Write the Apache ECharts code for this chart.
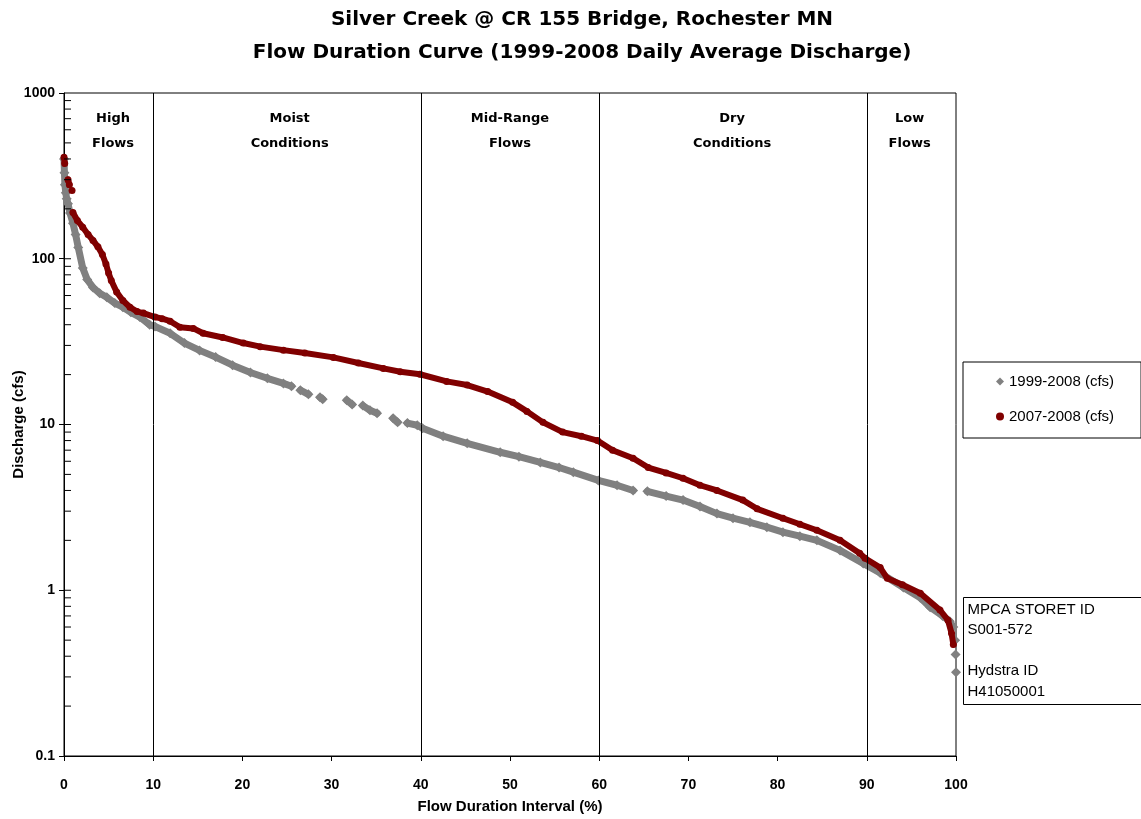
<!DOCTYPE html>
<html>
<head>
<meta charset="utf-8">
<script src="https://cdn.jsdelivr.net/npm/echarts@6/dist/echarts.min.js"></script>
<style>
  html, body { margin: 0; padding: 0; background: #fff; }
  #chart { width: 1141px; height: 819px; }
</style>
</head>
<body>
<div id="chart"></div>
<script>
// 1999-2008 daily discharge (null = gap in the curve)
var allYearsPct = [0, 0.05, 0.1, 0.2, 0.3, 0.45, 0.67, 1.0, 1.3, 1.6, 2.1, 2.6, 3.25, 4.0, 4.8, 5.7, 6.6, 7.5, 8.5, 9.6, 10.2,
    11.9, 13.5, 15.2, 17.0, 18.9, 20.9, 22.8, 24.6, 25.5, 26.0, 26.5, 27.4, 27.9, 28.7, 29.0, 30.3, 31.7, 32.3, 32.9,
    33.5, 34.3, 35.1, 36.0, 36.9, 37.4, 37.9, 38.5, 39.6, 40.2, 42.5, 45.2, 48.9, 51.0, 53.4, 55.5, 57.1, 59.9, 62.0,
    63.8, 64.6, 65.4, 67.5, 69.4, 71.3, 73.2, 75.0, 76.9, 78.8, 80.6, 82.5, 84.4, 87.0, 89.6, 91.5, 94.1, 96.0, 97.1,
    98.5, 99.3, 99.7, 99.8, 99.9, 99.93, 99.95, 99.97, 100];
var allYearsCfs = [400, 330, 280, 250, 230, 215, 189, 164, 140, 117, 88, 75, 67, 62, 58.5, 54, 51, 47.5, 44.5, 40, 39,
    35.5, 31, 28, 25.5, 22.8, 20.6, 19, 17.7, 17.0, null, 16.1, 15.2, null, 14.6, 14.2, null, 14.0, 13.2, null,
    13.0, 12.2, 11.7, null, 10.9, 10.3, null, 10.2, 9.9, 9.5, 8.5, 7.7, 6.8, 6.4, 5.9, 5.5, 5.16, 4.6, 4.3,
    4.0, null, 3.95, 3.7, 3.5, 3.2, 2.9, 2.72, 2.57, 2.4, 2.24, 2.12, 2.0, 1.74, 1.45, 1.27, 1.04, 0.9, 0.79,
    0.7, 0.65, 0.6, null, 0.5, null, 0.41, null, 0.32];

// 2007-2008 daily discharge
var recentPct = [0, 0.08, 0.25, 0.45, 0.6, 0.75, 0.9, 1.1, 1.0, 1.5, 2.1, 2.7, 3.25, 3.8, 4.3, 4.7, 5.0, 5.3, 5.9, 6.6,
    7.4, 8.2, 8.9, 10.2, 11.0, 11.9, 13.0, 14.5, 15.6, 17.8, 20.1, 22.0, 24.6, 27.0, 30.2, 33.0, 35.8, 37.7, 39.9,
    42.9, 45.2, 47.5, 50.3, 51.9, 53.7, 55.9, 58.0, 59.8, 61.5, 63.8, 65.5, 67.5, 69.4, 71.3, 73.2, 76.1, 77.7,
    80.6, 82.5, 84.4, 87.0, 89.2, 89.8, 91.5, 92.3, 94.0, 96.0, 98.2, 99.1, 99.5, 99.7];
var recentCfs = [410, 375, null, 300, 280, null, 258, null, 190, 170, 155, 140, 129, 118, 106, 93, 82, 74, 63, 56,
    51, 48, 47, 44.5, 43.5, 42, 38.6, 38, 35.5, 33.5, 31, 29.5, 28.1, 27, 25.4, 23.5, 21.8, 20.8, 20.1,
    18.2, 17.3, 15.8, 13.6, 12.0, 10.3, 9.0, 8.5, 8.0, 7.0, 6.26, 5.5, 5.1, 4.74, 4.3, 4.0, 3.5, 3.1,
    2.72, 2.5, 2.3, 2.0, 1.67, 1.56, 1.37, 1.18, 1.08, 0.96, 0.76, 0.66, 0.55, 0.47];

// flow zones
var zoneBounds = [10, 40, 60, 90];
var zoneCenters = [5.5, 25.3, 50, 74.9, 94.8];
var zoneNames = ['High\nFlows', 'Moist\nConditions', 'Mid-Range\nFlows', 'Dry\nConditions', 'Low\nFlows'];

// log axis tick values drawn on the inside
var yTicksInside = [0.2, 0.3, 0.4, 0.5, 0.6, 0.7, 0.8, 0.9, 1,
    2, 3, 4, 5, 6, 7, 8, 9, 10,
    20, 30, 40, 50, 60, 70, 80, 90, 100,
    200, 300, 400, 500, 600, 700, 800, 900];

function toPairs(xs, ys) {
    return xs.map(function(x, i) { return [x, ys[i] === null ? '-' : ys[i]]; });
}

var comic = '"Comic Sans MS", "DejaVu Sans", sans-serif';
var arial = '"Liberation Sans", Arial, sans-serif';

var chart = echarts.init(document.getElementById('chart'));
chart.setOption({
    animation: false,
    backgroundColor: '#fff',
    title: [{
        text: 'Silver Creek @ CR 155 Bridge, Rochester MN',
        left: 577, top: 5, textAlign: 'center',
        textStyle: { fontFamily: comic, fontSize: 20, fontWeight: 'bold', color: '#000' }
    }, {
        text: 'Flow Duration Curve (1999-2008 Daily Average Discharge)',
        left: 577, top: 38, textAlign: 'center',
        textStyle: { fontFamily: comic, fontSize: 20, fontWeight: 'bold', color: '#000' }
    }],
    legend: {
        orient: 'vertical',
        left: 963, top: 362,
        padding: [12, 27, 14, 33],
        itemGap: 20,
        itemWidth: 8, itemHeight: 8,
        borderColor: '#000', borderWidth: 1,
        textStyle: { fontFamily: arial, fontSize: 15, color: '#000' },
        data: [{ name: '1999-2008 (cfs)', icon: 'diamond' }, { name: '2007-2008 (cfs)', icon: 'circle' }]
    },
    grid: {
        left: 64, right: 185, top: 93, bottom: 63,
        containLabel: false, outerBoundsMode: 'none',
        show: true, borderColor: '#000', borderWidth: 1
    },
    xAxis: {
        type: 'value', min: 0, max: 100, interval: 10,
        name: 'Flow Duration Interval (%)',
        nameLocation: 'middle', nameGap: 43, nameMoveOverlap: false,
        nameTextStyle: { fontFamily: arial, fontSize: 15, fontWeight: 'bold', color: '#000' },
        axisLine: { lineStyle: { color: '#000', width: 1 } },
        axisTick: { length: 5, lineStyle: { color: '#000' } },
        axisLabel: { margin: 22, fontFamily: arial, fontSize: 14, fontWeight: 'bold', color: '#000' },
        splitLine: { show: false }
    },
    yAxis: {
        type: 'log', logBase: 10, min: 0.1, max: 1000,
        name: 'Discharge (cfs)',
        nameLocation: 'middle', nameGap: 38, nameMoveOverlap: false,
        nameTextStyle: { fontFamily: arial, fontSize: 15, fontWeight: 'bold', color: '#000' },
        axisLine: { show: true, lineStyle: { color: '#000', width: 1 } },
        axisTick: { length: 5, lineStyle: { color: '#000' } },
        axisLabel: {
            margin: 9, fontFamily: arial, fontSize: 14, fontWeight: 'bold', color: '#000',
            formatter: function(v) { return String(+v.toPrecision(3)); }
        },
        splitLine: { show: false }
    },
    series: [{
        name: '1999-2008 (cfs)',
        type: 'line',
        data: toPairs(allYearsPct, allYearsCfs),
        connectNulls: false,
        showSymbol: true, showAllSymbol: true,
        symbol: 'diamond', symbolSize: 10,
        color: '#808080',
        itemStyle: { color: '#808080' },
        lineStyle: { color: '#808080', width: 7, cap: 'round', join: 'round' },
        markLine: {
            silent: true, symbol: 'none',
            label: { show: false },
            lineStyle: { color: '#000', width: 1, type: 'solid' },
            data: zoneBounds.map(function(b) { return { xAxis: b }; })
        },
        z: 2
    }, {
        name: '2007-2008 (cfs)',
        type: 'line',
        data: toPairs(recentPct, recentCfs),
        connectNulls: false,
        showSymbol: true, showAllSymbol: true,
        symbol: 'circle', symbolSize: 7,
        color: '#800000',
        itemStyle: { color: '#800000' },
        lineStyle: { color: '#800000', width: 6, cap: 'round', join: 'round' },
        z: 3
    }, {
        name: 'zones',
        type: 'scatter',
        symbolSize: 0,
        data: zoneCenters.map(function(x) { return [x, 592]; }),
        label: {
            show: true, position: 'inside',
            formatter: function(p) { return zoneNames[p.dataIndex]; },
            fontFamily: comic, fontSize: 13, fontWeight: 'bold', color: '#000',
            opacity: 1, textBorderWidth: 0,
            lineHeight: 25, align: 'center'
        },
        silent: true, z: 4
    }, {
        name: 'minorTicks',
        type: 'custom',
        data: yTicksInside.map(function(v) { return [0, v]; }),
        renderItem: function(params, api) {
            var p = api.coord([0, api.value(1)]);
            return {
                type: 'line',
                shape: { x1: p[0], y1: p[1], x2: p[0] + 7, y2: p[1] },
                style: { stroke: '#000', lineWidth: 1 }
            };
        },
        clip: false, silent: true, z: 5
    }],
    graphic: [{
        type: 'group', left: 963, top: 597,
        children: [{
            type: 'rect',
            shape: { x: 0, y: 0, width: 178, height: 107 },
            style: { fill: '#fff', stroke: '#000', lineWidth: 1 }
        }, {
            type: 'text', x: 4, y: 2,
            style: {
                text: 'MPCA STORET ID\nS001-572\n\nHydstra ID\nH41050001',
                font: '15px "Liberation Sans", Arial, sans-serif',
                lineHeight: 20.5, fill: '#000'
            }
        }]
    }]
});
</script>
</body>
</html>
